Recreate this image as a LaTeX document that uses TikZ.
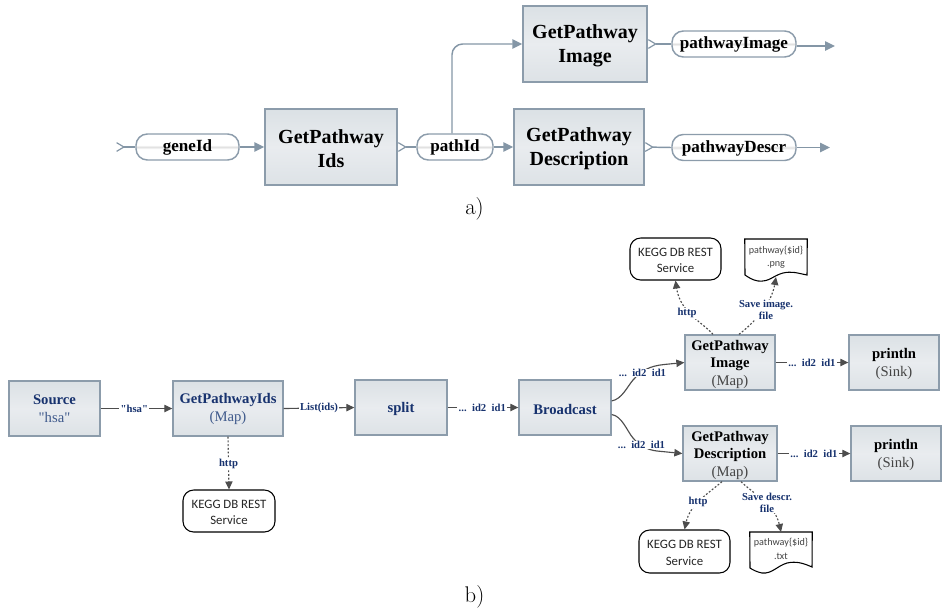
\documentclass[tikz,border=0pt]{standalone}
\usepackage{fontspec}
\usetikzlibrary{arrows.meta,calc}
\newfontfamily\cmb{Liberation Serif}
\newfontfamily\cbr{Carlito}
\definecolor{flowline}{HTML}{8496A6}
\definecolor{boxedge}{HTML}{8C9CAB}
\definecolor{navy}{HTML}{17326E}
\definecolor{softnavy}{HTML}{3F5A8C}
\definecolor{softgray}{HTML}{444444}
\definecolor{dark}{HTML}{4D4D4D}
\definecolor{boxtop}{HTML}{DBE1E5}
\definecolor{boxmid}{HTML}{E9ECEF}
\definecolor{boxbot}{HTML}{DDE2E6}
\pgfdeclareverticalshading{pillshade}{100bp}{color(0bp)=(white); color(46bp)=(white); color(50bp)=(black!12); color(54bp)=(white); color(100bp)=(white)}
\tikzset{
  sz/.style 2 args={minimum width=#1*0.75pt,minimum height=#2*0.75pt},
  procbox/.style={draw=boxedge,line width=1.1pt,top color=boxtop,bottom color=boxbot,middle color=boxmid,inner sep=0pt,align=center},
  bigbox/.style={procbox,font=\cmb\bfseries\fontsize{15}{18}\selectfont},
  smallbox/.style={procbox,line width=1pt,font=\cmb\bfseries\fontsize{11}{13}\selectfont},
  pill/.style={draw=boxedge,line width=1.1pt,rounded corners=8.5pt,shading=pillshade,inner sep=0pt,text height=8pt,text depth=1pt,font=\cmb\bfseries\fontsize{12.8}{15}\selectfont},
  service/.style={draw=black,line width=0.8pt,rounded corners=8pt,fill=white,inner sep=0pt,align=center,font=\cbr\fontsize{9.6}{12.5}\selectfont,text=black!85},
  docbox/.style={inner sep=0pt,align=center,font=\cbr\fontsize{7.6}{10}\selectfont,text=softgray},
  docline/.style={draw=black,line width=0.8pt,fill=white},
  flow/.style={draw=flowline,line width=1.1pt},
  flowtip/.style={flow,-{Triangle[length=7.5pt,width=7pt]}},
  barb/.style={flow,{Straight Barb[reversed,length=5.5pt,width=6.5pt,line width=0.9pt]}-},
  link/.style={draw=dark,line width=0.85pt,-{Triangle[length=6pt,width=5.5pt]}},
  plainlink/.style={draw=dark,line width=0.85pt},
  dotlink/.style={link,dash pattern=on 1.4pt off 1.4pt},
  edgelabel/.style={fill=white,inner xsep=1pt,inner ysep=0.5pt,align=center,text=navy,font=\cmb\bfseries\fontsize{8}{9}\selectfont},
  caption/.style={inner sep=0pt,font=\fontsize{17}{19}\selectfont},
}
\newcommand{\ids}{...\ \ id2\ \ id1}
\newcommand{\liftbig}{\rule{0pt}{13pt}}
\newcommand{\liftsmall}{\rule{0pt}{10.2pt}}
\newcommand{\liftserv}{\rule{0pt}{8.5pt}}
\begin{document}
\begin{tikzpicture}[x=0.75pt,y=-0.75pt]
\useasboundingbox (0,0) rectangle (944,612);
% ---- a)
\coordinate (inA) at (116,147);
\coordinate (outA) at (835,46);
\coordinate (outB) at (830,147.5);
\node[pill,sz={103}{26}] (geneid) at (187.5,147) {geneId};
\node[bigbox,sz={132}{76}] (gpi) at (331,147) {\liftbig GetPathway\\Ids};
\node[pill,sz={76}{26}] (pathid) at (455,147) {pathId};
\node[bigbox,sz={124}{76}] (gpim) at (585,44) {\liftbig GetPathway\\Image};
\node[bigbox,sz={130}{76}] (gpde) at (579,147) {\liftbig GetPathway\\Description};
\node[pill,sz={124}{26}] (pimg) at (734,44) {pathwayImage};
\node[pill,sz={124}{26}] (pdes) at (734,147.5) {pathwayDescr};
\draw[barb] (inA) -- (geneid.west);
\draw[flowtip] (geneid.east) -- (gpi.west);
\draw[barb] (gpi.east) -- (pathid.west);
\draw[flowtip,rounded corners=8pt] ([xshift=-2.25pt]pathid.north) |- (gpim.west);
\draw[flowtip] (pathid.east) -- (gpde.west);
\draw[barb] (gpim.east) -- (pimg.west);
\draw[barb] (gpde.east) -- (pdes.west);
\draw[flowtip] ([yshift=-1.5pt]pimg.east) -- (outA);
\draw[flowtip] (pdes.east) -- (outB);
\node[caption] (capa) at (474.5,209) {a)};
% ---- b)
\node[smallbox,sz={91}{55}] (source) at (54.5,408.5) {\textcolor{navy}{Source}\\[0.5pt]{\normalfont\cmb\color{softnavy}"hsa"}};
\node[smallbox,sz={110}{55}] (ids) at (228,408.5) {\textcolor{navy}{GetPathwayIds}\\[0.5pt]{\normalfont\cmb\color{softnavy}(Map)}};
\node[smallbox,sz={92}{55},text=navy] (split) at (401,407.5) {\liftsmall split};
\node[smallbox,sz={92}{55},text=navy] (bcast) at (565,407.5) {\liftsmall Broadcast};
\node[smallbox,sz={90}{55}] (img) at (730,362.5) {\liftsmall GetPathway\\Image\\{\normalfont\cmb\color{softgray}(Map)}};
\node[smallbox,sz={90}{55}] (pr1) at (894,362.5) {\liftsmall println\\[0.5pt]{\normalfont\cmb\color{softgray}(Sink)}};
\node[smallbox,sz={94}{55}] (des) at (730,453.5) {\liftsmall GetPathway\\Description\\{\normalfont\cmb\color{softgray}(Map)}};
\node[smallbox,sz={90}{55}] (pr2) at (896,453.5) {\liftsmall println\\[0.5pt]{\normalfont\cmb\color{softgray}(Sink)}};
\node[service,sz={92}{42}] (kegg1) at (229,511) {\liftserv KEGG DB REST\\Service};
\node[service,sz={91}{42}] (kegg2) at (675.5,259) {\liftserv KEGG DB REST\\Service};
\node[service,sz={91}{43}] (kegg3) at (684.5,551.5) {\liftserv KEGG DB REST\\Service};
% documents
\node[docbox,sz={62}{38},anchor=north] (doc1) at (776,239) {};
\draw[docline] (doc1.north west) -- (doc1.north east) -- (807,275) .. controls (797,273) and (792,271) .. (783,273) .. controls (772,276) and (770,282) .. (758,281) .. controls (752,280) and (748,277) .. (745,275) -- cycle;
\node[docbox,anchor=center] (doc1text) at (776,257.5) {pathway\{\$id\}\\.png};
\node[docbox,sz={62}{36},anchor=north] (doc2) at (781,532) {};
\draw[docline] (doc2.north west) -- (doc2.north east) -- (812,567) .. controls (803,563) and (796,561) .. (787,563) .. controls (777,566) and (772,574) .. (762,573) .. controls (757,572) and (753,570) .. (750,568) -- cycle;
\node[docbox,anchor=center] (doc2text) at (781,549) {pathway\{\$id\}\\.txt};
% connectors
\draw[link] (source.east) -- node[edgelabel,pos=0.47] (l1) {"hsa"} (ids.west);
\draw[link] (ids.east) -- node[edgelabel,pos=0.5] (l2) {List(ids)} (split.west);
\draw[link] (split.east) -- node[edgelabel,pos=0.49] (l3) {\ids} (bcast.west);
\draw[dotlink] (ids.south) -- node[edgelabel,pos=0.52] (l4) {http} (kegg1.north);
\draw[plainlink,-{Triangle[length=6pt,width=5.5pt]}] ([yshift=4.9pt]bcast.east) .. controls (622,399) and (627,387) .. (633,380) .. controls (642,370) and (650,366) .. (664,364.5) -- (img.west);
\node[edgelabel] (l5) at (642.5,373) {\ids};
\draw[plainlink,-{Triangle[length=6pt,width=5.5pt]}] ([yshift=-5.25pt]bcast.east) .. controls (622,416) and (627,431) .. (633,438) .. controls (640,446) and (648,450) .. (657,451) -- (des.west);
\node[edgelabel] (l6) at (641.5,445) {\ids};
\draw[link] (img.east) -- node[edgelabel,pos=0.5] (l7) {\ids} (pr1.west);
\draw[link] (des.east) -- node[edgelabel,pos=0.5] (l8) {\ids} (pr2.west);
\draw[dotlink] ([xshift=-12.75pt]img.north) .. controls (702,322) and (680,312) .. (kegg2.south);
\node[edgelabel] (l9) at (687,313) {http};
\draw[dotlink] ([xshift=6.75pt]img.north) .. controls (760,318) and (772,300) .. (776,277);
\node[edgelabel] (l10) at (766,310) {Save image.\\file};
\draw[dotlink] ([xshift=-6pt]des.south) .. controls (706,495) and (690,505) .. (kegg3.north);
\node[edgelabel] (l11) at (698,502) {http};
\draw[dotlink] ([xshift=8.25pt]des.south) .. controls (755,495) and (775,505) .. (doc2.north);
\node[edgelabel] (l12) at (767,503) {Save descr.\\file};
\node[caption] (capb) at (474.5,597) {b)};
\end{tikzpicture}
\end{document}
